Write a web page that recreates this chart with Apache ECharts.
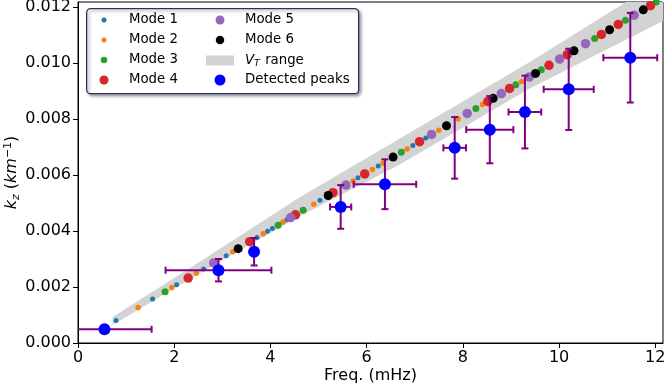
<!DOCTYPE html>
<html>
<head>
<meta charset="utf-8">
<script src="https://cdn.jsdelivr.net/npm/echarts/dist/echarts.min.js"></script>
<style>
  html, body {margin: 0; padding: 0; background: #fff;}
  #chart {width: 666px; height: 387px;}
</style>
</head>
<body>
<div id="chart"></div>
<script>
// mode points (freq in mHz, kz in 1/km)
const mode1Freq = [0.79, 1.55, 2.05, 2.61, 3.08, 3.72, 3.94, 4.04, 4.34, 5.03, 5.82, 6.24, 6.96, 7.23];
const mode1K = [0.00080, 0.00157, 0.00208, 0.00264, 0.00312, 0.00377, 0.00399, 0.00409, 0.00440, 0.00510, 0.00590, 0.00632, 0.00705, 0.00732];
const mode2Freq = [1.25, 1.95, 2.46, 3.22, 3.85, 4.26, 4.90, 5.72, 6.12, 6.34, 6.84, 7.50, 7.90, 8.41, 9.22];
const mode2K = [0.00127, 0.00198, 0.00249, 0.00326, 0.00390, 0.00432, 0.00496, 0.00579, 0.00620, 0.00642, 0.00693, 0.00760, 0.00800, 0.00852, 0.00934];
const mode3Freq = [1.81, 4.16, 4.68, 6.72, 8.27, 9.10, 9.63, 10.74, 11.38, 12.02];
const mode3K = [0.00183, 0.00421, 0.00474, 0.00681, 0.00838, 0.00922, 0.00976, 0.01088, 0.01153, 0.01218];
const mode4Freq = [2.29, 3.57, 4.52, 5.30, 5.96, 7.10, 8.52, 8.97, 9.79, 10.17, 10.88, 11.23, 11.90];
const mode4K = [0.00232, 0.00362, 0.00458, 0.00537, 0.00604, 0.00719, 0.00863, 0.00909, 0.00992, 0.01030, 0.01102, 0.01138, 0.01205];
const mode5Freq = [2.82, 4.42, 5.57, 7.35, 8.09, 8.80, 9.38, 10.01, 10.55, 11.56];
const mode5K = [0.00286, 0.00448, 0.00564, 0.00745, 0.00820, 0.00891, 0.00950, 0.01014, 0.01069, 0.01171];
const mode6Freq = [3.33, 5.20, 6.55, 7.66, 8.63, 9.51, 10.31, 11.05, 11.75];
const mode6K = [0.00337, 0.00527, 0.00664, 0.00776, 0.00874, 0.00963, 0.01044, 0.01119, 0.01190];

// V_T range band edges
const bandFreq = [0.72, 2.53, 4.61, 6.69, 9.39, 12.16];
const bandUpper = [0.00093, 0.00290, 0.00521, 0.00730, 0.01004, 0.01300];
const bandLower = [0.00064, 0.00249, 0.00453, 0.00638, 0.00909, 0.01150];

// detected peaks with errors
const peakFreq = [0.55, 2.92, 3.66, 5.46, 6.38, 7.83, 8.56, 9.29, 10.20, 11.48];
const peakK = [0.00049, 0.00260, 0.00326, 0.00486, 0.00567, 0.00697, 0.00762, 0.00825, 0.00906, 0.01019];
const peakFreqErr = [0.98, 1.10, 0.05, 0.22, 0.65, 0.235, 0.49, 0.34, 0.52, 0.56];
const peakKErr = [0.00003, 0.00040, 0.00049, 0.00078, 0.00089, 0.00110, 0.00120, 0.00130, 0.00145, 0.00160];

// ticks
const xTicks = [0, 2, 4, 6, 8, 10, 12];
const yTicks = ['0.000', '0.002', '0.004', '0.006', '0.008', '0.010', '0.012'];

const FONT = 'DejaVu Sans';
const chart = echarts.init(document.getElementById('chart'));

const pairs = (xs, ys) => xs.map((x, i) => [x, ys[i]]);

const modes = [
  {name: 'Mode 1', f: mode1Freq, k: mode1K, color: '#1f77b4', size: 5, legendSize: 5},
  {name: 'Mode 2', f: mode2Freq, k: mode2K, color: '#ff7f0e', size: 5.5, legendSize: 5},
  {name: 'Mode 3', f: mode3Freq, k: mode3K, color: '#2ca02c', size: 7, legendSize: 6.5},
  {name: 'Mode 4', f: mode4Freq, k: mode4K, color: '#d62728', size: 9.5, legendSize: 9},
  {name: 'Mode 5', f: mode5Freq, k: mode5K, color: '#9467bd', size: 9.5, legendSize: 9},
  {name: 'Mode 6', f: mode6Freq, k: mode6K, color: '#000000', size: 9, legendSize: 8.5},
];

const modeSeries = modes.map((m, i) => ({
  type: 'scatter',
  name: m.name,
  data: pairs(m.f, m.k),
  symbol: 'circle',
  symbolSize: m.size,
  itemStyle: {color: m.color, opacity: 1},
  z: 3 + i,
  silent: true,
  animation: false,
}));

const bandSeries = {
  type: 'custom',
  name: 'V_T range',
  coordinateSystem: 'cartesian2d',
  clip: true,
  z: 1,
  silent: true,
  itemStyle: {color: '#d3d3d3'},
  data: [[bandFreq[0], bandLower[0]]],
  renderItem: function (params, api) {
    const pts = [];
    for (let i = 0; i < bandFreq.length; i++) {
      pts.push(api.coord([bandFreq[i], bandUpper[i]]));
    }
    for (let i = bandFreq.length - 1; i >= 0; i--) {
      pts.push(api.coord([bandFreq[i], bandLower[i]]));
    }
    return {type: 'polygon', shape: {points: pts}, style: {fill: '#d3d3d3'}};
  },
  animation: false,
};

const CAP = 3.5;
const errSeries = {
  type: 'custom',
  name: 'peak errors',
  coordinateSystem: 'cartesian2d',
  clip: true,
  z: 10,
  silent: true,
  data: peakFreq.map((f, i) => [f, peakK[i], peakFreqErr[i], peakKErr[i]]),
  renderItem: function (params, api) {
    const f = api.value(0), k = api.value(1), fe = api.value(2), ke = api.value(3);
    const l = api.coord([f - fe, k]);
    const r = api.coord([f + fe, k]);
    const t = api.coord([f, k + ke]);
    const b = api.coord([f, k - ke]);
    const st = {stroke: '#800080', lineWidth: 2};
    return {
      type: 'group',
      children: [
        {type: 'line', shape: {x1: l[0], y1: l[1], x2: r[0], y2: r[1]}, style: st},
        {type: 'line', shape: {x1: l[0], y1: l[1] - CAP, x2: l[0], y2: l[1] + CAP}, style: st},
        {type: 'line', shape: {x1: r[0], y1: r[1] - CAP, x2: r[0], y2: r[1] + CAP}, style: st},
        {type: 'line', shape: {x1: t[0], y1: t[1], x2: b[0], y2: b[1]}, style: st},
        {type: 'line', shape: {x1: t[0] - CAP, y1: t[1], x2: t[0] + CAP, y2: t[1]}, style: st},
        {type: 'line', shape: {x1: b[0] - CAP, y1: b[1], x2: b[0] + CAP, y2: b[1]}, style: st},
      ]
    };
  },
  animation: false,
};

const peakSeries = {
  type: 'scatter',
  name: 'Detected peaks',
  data: pairs(peakFreq, peakK),
  symbol: 'circle',
  symbolSize: 12,
  itemStyle: {color: '#0000ff', opacity: 1},
  z: 11,
  silent: true,
  animation: false,
};

// legend: one small legend per entry so each marker keeps its own size
// (a legend box is placed by its bounding rect, so left = marker centre - size/2)
const legendRows = [20, 40, 60, 80];
const legendText = {
  fontFamily: FONT, fontSize: 13.3, color: '#000', lineHeight: 16,
  rich: {
    i: {fontFamily: FONT, fontSize: 13.3, fontStyle: 'italic', color: '#000', lineHeight: 16},
    s: {fontFamily: FONT, fontSize: 9.5, fontStyle: 'italic', color: '#000', lineHeight: 16, padding: [7, 1, 0, 0]},
    n: {fontFamily: FONT, fontSize: 13.3, color: '#000', lineHeight: 16},
  }
};
const legendItems = [
  ...modes.slice(0, 4).map((m, i) => ({name: m.name, cx: 104, row: i, h: m.legendSize})),
  ...modes.slice(4).map((m, i) => ({name: m.name, cx: 220, row: i, h: m.legendSize})),
  {name: 'V_T range', left: 206, row: 2, h: 10, w: 28, icon: 'rect', pad: 6},
  {name: 'Detected peaks', cx: 220, row: 3, h: 11},
];
const legends = legendItems.map(it => ({
  left: it.left != null ? it.left : it.cx - it.h / 2,
  top: legendRows[it.row] - 8,
  orient: 'vertical',
  padding: 0,
  itemWidth: it.w || 40,
  itemHeight: it.h,
  selectedMode: false,
  symbolKeepAspect: true,
  data: [{name: it.name, icon: it.icon || 'circle'}],
  textStyle: Object.assign({}, legendText, {padding: [0, 0, 0, it.pad || 0]}),
  formatter: function (name) {
    if (name === 'V_T range') return '{i|V}{s|T}{n| range}';
    return name;
  },
  z: 20,
}));

const option = {
  backgroundColor: '#fff',
  animation: false,
  textStyle: {fontFamily: FONT},
  grid: {
    left: 78, right: 3, top: 2, bottom: 44,
    containLabel: false,
    outerBoundsMode: 'none',
    show: true, borderColor: '#000', borderWidth: 1, backgroundColor: 'transparent',
  },
  xAxis: {
    type: 'value',
    min: 0, max: 12.16, interval: 2,
    name: 'Freq. (mHz)',
    nameLocation: 'middle',
    nameGap: 25,
    nameMoveOverlap: false,
    nameTextStyle: {fontFamily: FONT, fontSize: 16, color: '#000'},
    axisLine: {show: true, onZero: false, lineStyle: {color: '#000', width: 1}},
    axisTick: {show: true, length: 5, lineStyle: {color: '#000'}},
    axisLabel: {
      fontFamily: FONT, fontSize: 16, color: '#000', margin: 7, showMaxLabel: false,
      formatter: v => (xTicks.indexOf(v) >= 0 ? String(v) : '')
    },
    splitLine: {show: false},
  },
  yAxis: {
    type: 'value',
    min: 0, max: 0.01218, interval: 0.002,
    name: '{i|k}{s|z}{n| (}{i|km}{p|−1}{n|)}',
    nameLocation: 'middle',
    nameGap: 56,
    nameMoveOverlap: false,
    nameRotate: 90,
    nameTextStyle: {
      fontFamily: FONT, fontSize: 16, color: '#000',
      rich: {
        i: {fontFamily: FONT, fontSize: 16, fontStyle: 'italic', color: '#000', lineHeight: 20},
        n: {fontFamily: FONT, fontSize: 16, color: '#000', lineHeight: 20},
        s: {fontFamily: FONT, fontSize: 11, fontStyle: 'italic', color: '#000', lineHeight: 20, padding: [8, 0, 0, 0]},
        p: {fontFamily: FONT, fontSize: 11, color: '#000', lineHeight: 20, padding: [0, 0, 8, 0]},
      }
    },
    axisLine: {show: true, onZero: false, lineStyle: {color: '#000', width: 1}},
    axisTick: {show: true, length: 5, lineStyle: {color: '#000'}},
    axisLabel: {
      fontFamily: FONT, fontSize: 16, color: '#000', margin: 7, showMaxLabel: false,
      formatter: function (v) {
        const idx = Math.round(v / 0.002);
        return Math.abs(v - idx * 0.002) < 1e-9 ? yTicks[idx] : '';
      }
    },
    splitLine: {show: false},
  },
  legend: legends,
  graphic: [{
    type: 'rect',
    left: 86, top: 8,
    shape: {width: 272, height: 85, r: 4},
    style: {
      fill: '#fff', stroke: '#2d2d66', lineWidth: 1.3,
      shadowBlur: 3, shadowOffsetX: 2, shadowOffsetY: 2, shadowColor: 'rgba(0,0,0,0.35)'
    },
    z: 15,
    silent: true,
  }],
  series: [bandSeries, ...modeSeries, errSeries, peakSeries],
};

chart.setOption(option);
</script>
</body>
</html>
